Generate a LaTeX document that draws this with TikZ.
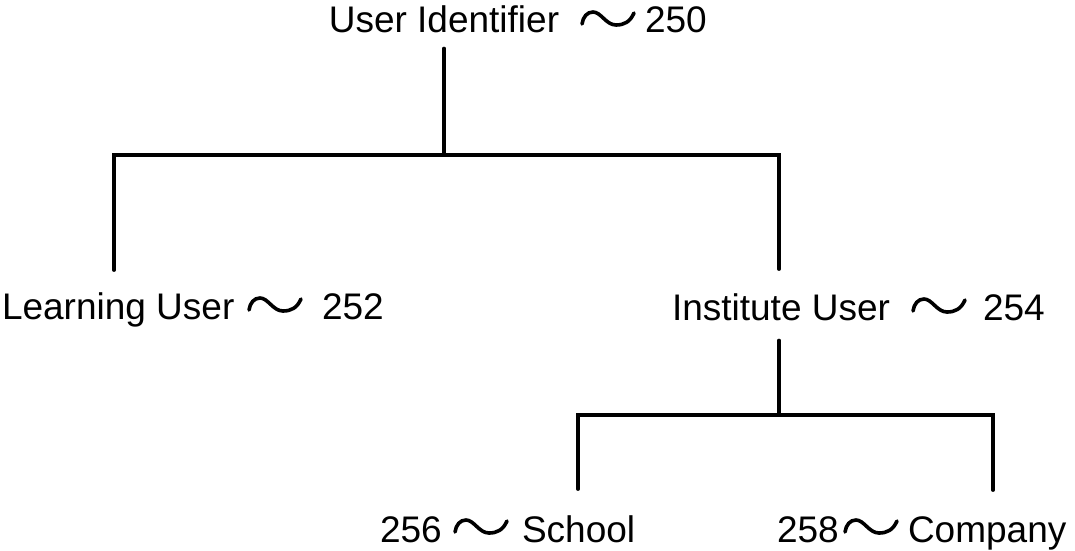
\documentclass[tikz,border=0pt]{standalone}
\usepackage{fontspec}
\setmainfont{Liberation Sans}
\usetikzlibrary{calc}
\begin{document}
\begin{tikzpicture}[x=1pt,y=-1pt,
  lbl/.style={inner sep=0pt,outer sep=0pt,font=\fontsize{37}{40}\selectfont},
  tree/.style={line width=3.4pt,line cap=round,line join=miter},
  wavestyle/.style={line width=3.6pt,line cap=round},
  squig/.pic={\draw[wavestyle] (0,5) .. controls (1,-2) and (5,-7) .. (11,-7) .. controls (19,-7) and (24,6) .. (34,6) .. controls (42,6) and (48,3) .. (52,-6);}]
\useasboundingbox (0,0) rectangle (1075,550);
% labels
\node[lbl,anchor=base] (ui) at (444,32) {User Identifier};
\node[lbl,anchor=base west] (n250) at (645,32) {250};
\node[lbl,anchor=base west] (lu) at (2,319) {Learning User};
\node[lbl,anchor=base west] (n252) at (322,319) {252};
\node[lbl,anchor=base west] (iu) at (672,320) {Institute User};
\node[lbl,anchor=base west] (n254) at (983,320) {254};
\node[lbl,anchor=base west] (n256) at (380,542) {256};
\node[lbl,anchor=base west] (sc) at (522,542) {School};
\node[lbl,anchor=base west] (n258) at (777,542) {258};
\node[lbl,anchor=base west] (co) at (908,542) {Company};
% leader squiggles
\pic at (582,19) {squig};
\pic at (249,305) {squig};
\pic at (913,306) {squig};
\pic at (455,527) {squig};
\pic at (845,527) {squig};
% tree junctions
\coordinate (hL) at (114,155);
\coordinate (hR) at (779,155);
\coordinate (bL) at (578,415);
\coordinate (bM) at (779,415);
\coordinate (bR) at (993,415);
% connectors
\draw[tree] ([yshift=-16pt]ui.south) -- (ui.south |- hL);
\draw[tree] ([yshift=22pt]lu.north -| hL) -- (hL) -- (hR) -- ([yshift=24pt]iu.north -| hR);
\draw[tree] ([yshift=-20pt]iu.south -| bM) -- (bM);
\draw[tree] ([yshift=26pt]sc.north -| bL) -- (bL) -- (bR) -- ([yshift=26pt]co.north -| bR);
\end{tikzpicture}
\end{document}
